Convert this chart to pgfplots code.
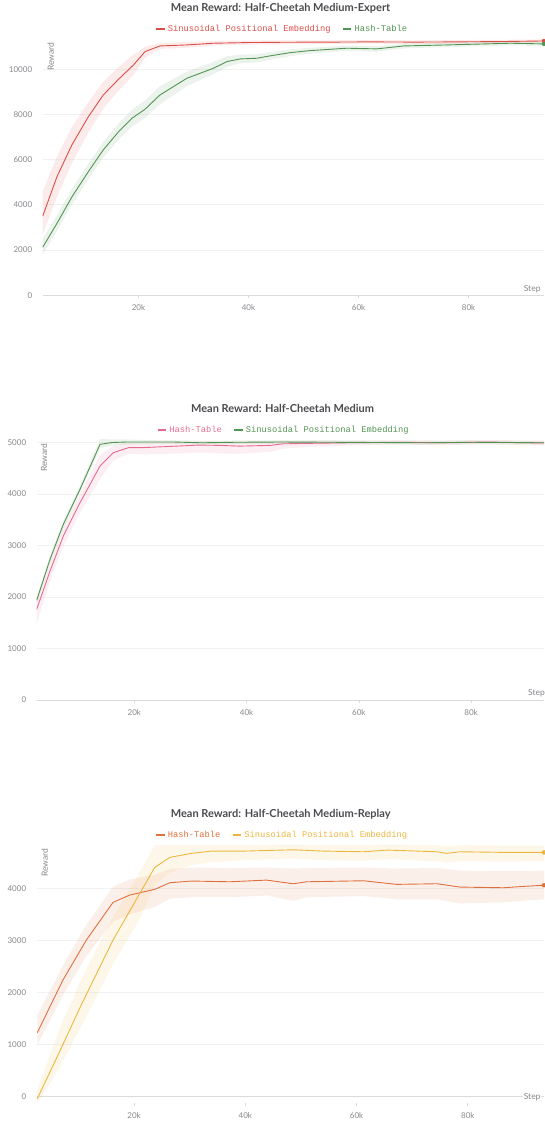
\documentclass[border=0pt]{standalone}
\usepackage{fontspec}
\setmainfont{Lato}
\newfontfamily\monofont{Liberation Mono}
\usepackage{pgfplots}
\pgfplotsset{compat=1.18}
\usepackage{pgfplotstable}
\usepgfplotslibrary{fillbetween}

\definecolor{cRed}{RGB}{219,78,72}
\definecolor{cGreen}{RGB}{82,148,82}
\definecolor{cPink}{RGB}{229,106,143}
\definecolor{cOrange}{RGB}{222,112,62}
\definecolor{cYellow}{RGB}{236,182,62}
\definecolor{tickgray}{RGB}{135,135,140}
\definecolor{titlegray}{RGB}{75,75,80}

% ---------- Panel 1: Medium-Expert ----------
\pgfplotstableread{
x y lo hi
2600 3500 2700 4600
5200 5250 4350 6150
7900 6650 5850 7450
10900 7900 7200 8550
13600 8860 8250 9450
16400 9560 9050 10100
19100 10190 9750 10650
21200 10780 10500 11000
23900 11030 10900 11150
28800 11075 10950 11200
33600 11150 11050 11250
40000 11180 11090 11270
47600 11195 11110 11280
55000 11200 11120 11280
62000 11210 11130 11290
70000 11200 11120 11280
78000 11210 11130 11290
86000 11225 11150 11300
93700 11250 11170 11320
}\MEsin
\pgfplotstableread{
x y lo hi
2600 2124 1800 2500
5200 3186 2850 3550
7900 4350 4000 4700
10900 5470 5130 5820
13600 6430 6080 6780
16400 7240 6880 7600
18800 7830 7450 8200
21200 8230 7850 8620
23900 8860 8450 9250
28800 9600 9250 9900
33600 10040 9780 10320
36100 10340 10100 10570
38500 10456 10270 10650
41500 10485 10300 10660
43900 10590 10420 10760
47600 10735 10580 10880
51200 10824 10690 10950
57900 10930 10810 11050
63300 10900 10770 11020
68200 11030 10920 11130
76000 11075 10980 11170
87600 11150 11060 11230
93700 11120 11040 11200
}\MEhash

% ---------- Panel 2: Medium ----------
\pgfplotstableread{
x y lo hi
2600 1760 1500 1950
4975 2505 2300 2680
7350 3185 2990 3360
10320 3832 3640 4000
13890 4544 4290 4750
16260 4803 4650 4940
18940 4900 4780 5000
21300 4900 4770 5000
25500 4920 4780 5010
31400 4950 4800 5020
35000 4945 4790 5020
38800 4930 4780 5015
44300 4945 4820 5020
46500 4975 4880 5030
51800 4985 4920 5040
57900 4995 4940 5040
67000 5005 4960 5045
76000 4995 4950 5040
82700 5010 4965 5050
93000 4990 4945 5035
}\Mhash
\pgfplotstableread{
x y lo hi
2600 1936 1870 2000
4975 2732 2660 2800
7350 3412 3340 3480
10320 4092 4020 4160
13890 4965 4890 5070
16000 5000 4940 5060
18600 5010 4960 5060
22000 5010 4970 5050
27000 5010 4975 5045
32000 4995 4960 5035
38000 5005 4970 5040
46000 5010 4975 5045
55000 5005 4970 5040
64000 5000 4965 5035
72000 4995 4960 5030
80000 5005 4970 5040
87000 5000 4965 5035
93000 4995 4960 5030
}\Msin

% ---------- Panel 3: Medium-Replay ----------
\pgfplotstableread{
x y lo hi
2600 1228 990 1560
7220 2240 1950 2520
11430 3007 2700 3300
16220 3730 3360 4030
19220 3871 3500 4170
23720 3980 3640 4260
26420 4107 3800 4370
30330 4140 3830 4400
37220 4126 3830 4390
43830 4158 3860 4400
48620 4088 3760 4380
51030 4126 3830 4390
61220 4145 3850 4400
67230 4076 3790 4380
74430 4088 3790 4390
78620 4024 3710 4340
86420 4011 3730 4330
90020 4037 3760 4330
93700 4060 3790 4340
}\MRhash
\pgfplotstableread{
x y lo hi
2600 -40 -130 150
6600 860 550 1300
10500 1760 1350 2250
16220 3007 2550 3450
20720 3844 3350 4250
23720 4402 4050 4830
26420 4594 4300 4830
30330 4671 4450 4830
33930 4715 4500 4830
39920 4715 4540 4830
48620 4740 4570 4840
54000 4715 4540 4830
61220 4702 4530 4830
65600 4734 4560 4840
74430 4702 4520 4830
76230 4671 4490 4810
78620 4702 4520 4830
86420 4690 4510 4820
93700 4690 4520 4820
}\MRsin

\tikzset{lab/.style={font=\fontsize{8.5}{10}\selectfont, text=tickgray}}
\pgfplotsset{
  wb/.style={
    scale only axis,
    axis line style={draw=none},
    tick align=outside,
    xtick pos=bottom, ytick pos=left,
    ytick style={draw=none},
    xtick style={draw=black!15, line width=0.6pt},
    major tick length=3pt,
    ymajorgrids,
    grid style={draw=black!5, line width=0.8pt},
    extra y ticks={0}, extra y tick labels={},
    extra y tick style={grid style={draw=black!14, line width=1pt}},
    tick label style={font=\fontsize{8}{9}\selectfont, text=tickgray},
    /pgf/number format/assume math mode=true,
    /pgf/number format/1000 sep={},
    xtick={20000,40000,60000,80000}, xticklabels={20k,40k,60k,80k},
    xticklabel style={yshift=-3pt},
    yticklabel style={xshift=-4pt},
    scaled x ticks=false, scaled y ticks=false,
    title style={font=\fontsize{11}{13}\selectfont\bfseries, text=titlegray, anchor=center},
    legend style={draw=none, fill=none, anchor=center, legend columns=-1,
      font=\monofont\fontsize{8.75}{10}\selectfont,
      /tikz/every even column/.append style={column sep=9pt}},
    legend image code/.code={\draw[line width=2.2pt] (0pt,0pt) -- (8.7pt,0pt);},
  },
  mline/.style={line width=0.9pt, no marks},
  band/.style={fill=#1, fill opacity=0.11, draw=none, forget plot},
  edge/.style={draw=none, forget plot, no marks},
}

\begin{document}
\begin{tikzpicture}

% ===== Panel 1 =====
\begin{axis}[wb, at={(42.7pt,-295.3pt)}, anchor=south west,
  width=501.3pt, height=259.3pt,
  xmin=2600, xmax=93700, ymin=0, ymax=11470,
  ytick={0,2000,4000,6000,8000,10000},
  title={Mean Reward: Half-Cheetah Medium-Expert},
  title style={at={(axis description cs:0.4744,1.0848)}},
  legend style={at={(axis description cs:0.4774,1.0258)}}]
\addplot[edge, name path=a1] table[x=x,y=hi]{\MEsin};
\addplot[edge, name path=b1] table[x=x,y=lo]{\MEsin};
\addplot[band=cRed] fill between[of=a1 and b1];
\addplot[edge, name path=a2] table[x=x,y=hi]{\MEhash};
\addplot[edge, name path=b2] table[x=x,y=lo]{\MEhash};
\addplot[band=cGreen] fill between[of=a2 and b2];
\addplot[mline, cRed] table[x=x,y=y]{\MEsin};
\addlegendentry{\textcolor{cRed}{Sinusoidal Positional Embedding}}
\addplot[mline, cGreen] table[x=x,y=y]{\MEhash};
\addlegendentry{\textcolor{cGreen}{Hash-Table}}
\addplot[only marks, mark=*, mark size=2pt, cRed, forget plot] coordinates {(93700,11250)};
\addplot[only marks, mark=*, mark size=2pt, cGreen, forget plot] coordinates {(93700,11120)};
\node[lab, rotate=90] at (axis description cs:0.016,0.920) {Reward};
\node[lab, anchor=west, fill=white, inner sep=1pt] at (axis description cs:0.9573,0.023) {Step};
\end{axis}

% ===== Panel 2 =====
\begin{axis}[wb, at={(36.7pt,-700pt)}, anchor=south west,
  width=507.3pt, height=261.6pt,
  xmin=2600, xmax=93000, ymin=0, ymax=5080,
  ytick={0,1000,2000,3000,4000,5000},
  title={Mean Reward: Half-Cheetah Medium},
  title style={at={(axis description cs:0.4847,1.0906)}},
  legend style={at={(axis description cs:0.4865,1.0321)}}]
\addplot[edge, name path=a1] table[x=x,y=hi]{\Mhash};
\addplot[edge, name path=b1] table[x=x,y=lo]{\Mhash};
\addplot[band=cPink] fill between[of=a1 and b1];
\addplot[edge, name path=a2] table[x=x,y=hi]{\Msin};
\addplot[edge, name path=b2] table[x=x,y=lo]{\Msin};
\addplot[band=cGreen] fill between[of=a2 and b2];
\addplot[mline, cPink] table[x=x,y=y]{\Mhash};
\addlegendentry{\textcolor{cPink}{Hash-Table}}
\addplot[mline, cGreen] table[x=x,y=y]{\Msin};
\addlegendentry{\textcolor{cGreen}{Sinusoidal Positional Embedding}}
\node[lab, rotate=90] at (axis description cs:0.0144,0.926) {Reward};
\node[lab, anchor=west, fill=white, inner sep=1pt] at (axis description cs:0.9665,0.0256) {Step};
\end{axis}

% ===== Panel 3 =====
\begin{axis}[wb, at={(36.7pt,-1103.2pt)}, anchor=south west,
  width=507.3pt, height=260.2pt,
  xmin=2500, xmax=93700, ymin=-125, ymax=4870,
  ytick={0,1000,2000,3000,4000},
  title={Mean Reward: Half-Cheetah Medium-Replay},
  title style={at={(axis description cs:0.481,1.0884)}},
  legend style={at={(axis description cs:0.4837,1.0307)}}]
\addplot[edge, name path=a1] table[x=x,y=hi]{\MRhash};
\addplot[edge, name path=b1] table[x=x,y=lo]{\MRhash};
\addplot[band=cOrange] fill between[of=a1 and b1];
\addplot[edge, name path=a2] table[x=x,y=hi]{\MRsin};
\addplot[edge, name path=b2] table[x=x,y=lo]{\MRsin};
\addplot[band=cYellow] fill between[of=a2 and b2];
\addplot[mline, cOrange] table[x=x,y=y]{\MRhash};
\addlegendentry{\textcolor{cOrange}{Hash-Table}}
\addplot[mline, cYellow] table[x=x,y=y]{\MRsin};
\addlegendentry{\textcolor{cYellow}{Sinusoidal Positional Embedding}}
\addplot[only marks, mark=*, mark size=2pt, cOrange, forget plot] coordinates {(93700,4060)};
\addplot[only marks, mark=*, mark size=2pt, cYellow, forget plot] coordinates {(93700,4690)};
\node[lab, rotate=90] at (axis description cs:0.0160,0.925) {Reward};
\node[lab, anchor=west, fill=white, inner sep=1pt] at (axis description cs:0.9578,0.025) {Step};
\end{axis}

\pgfresetboundingbox
\path[use as bounding box] (0pt,0pt) rectangle (544pt,-1121pt);
\end{tikzpicture}
\end{document}
